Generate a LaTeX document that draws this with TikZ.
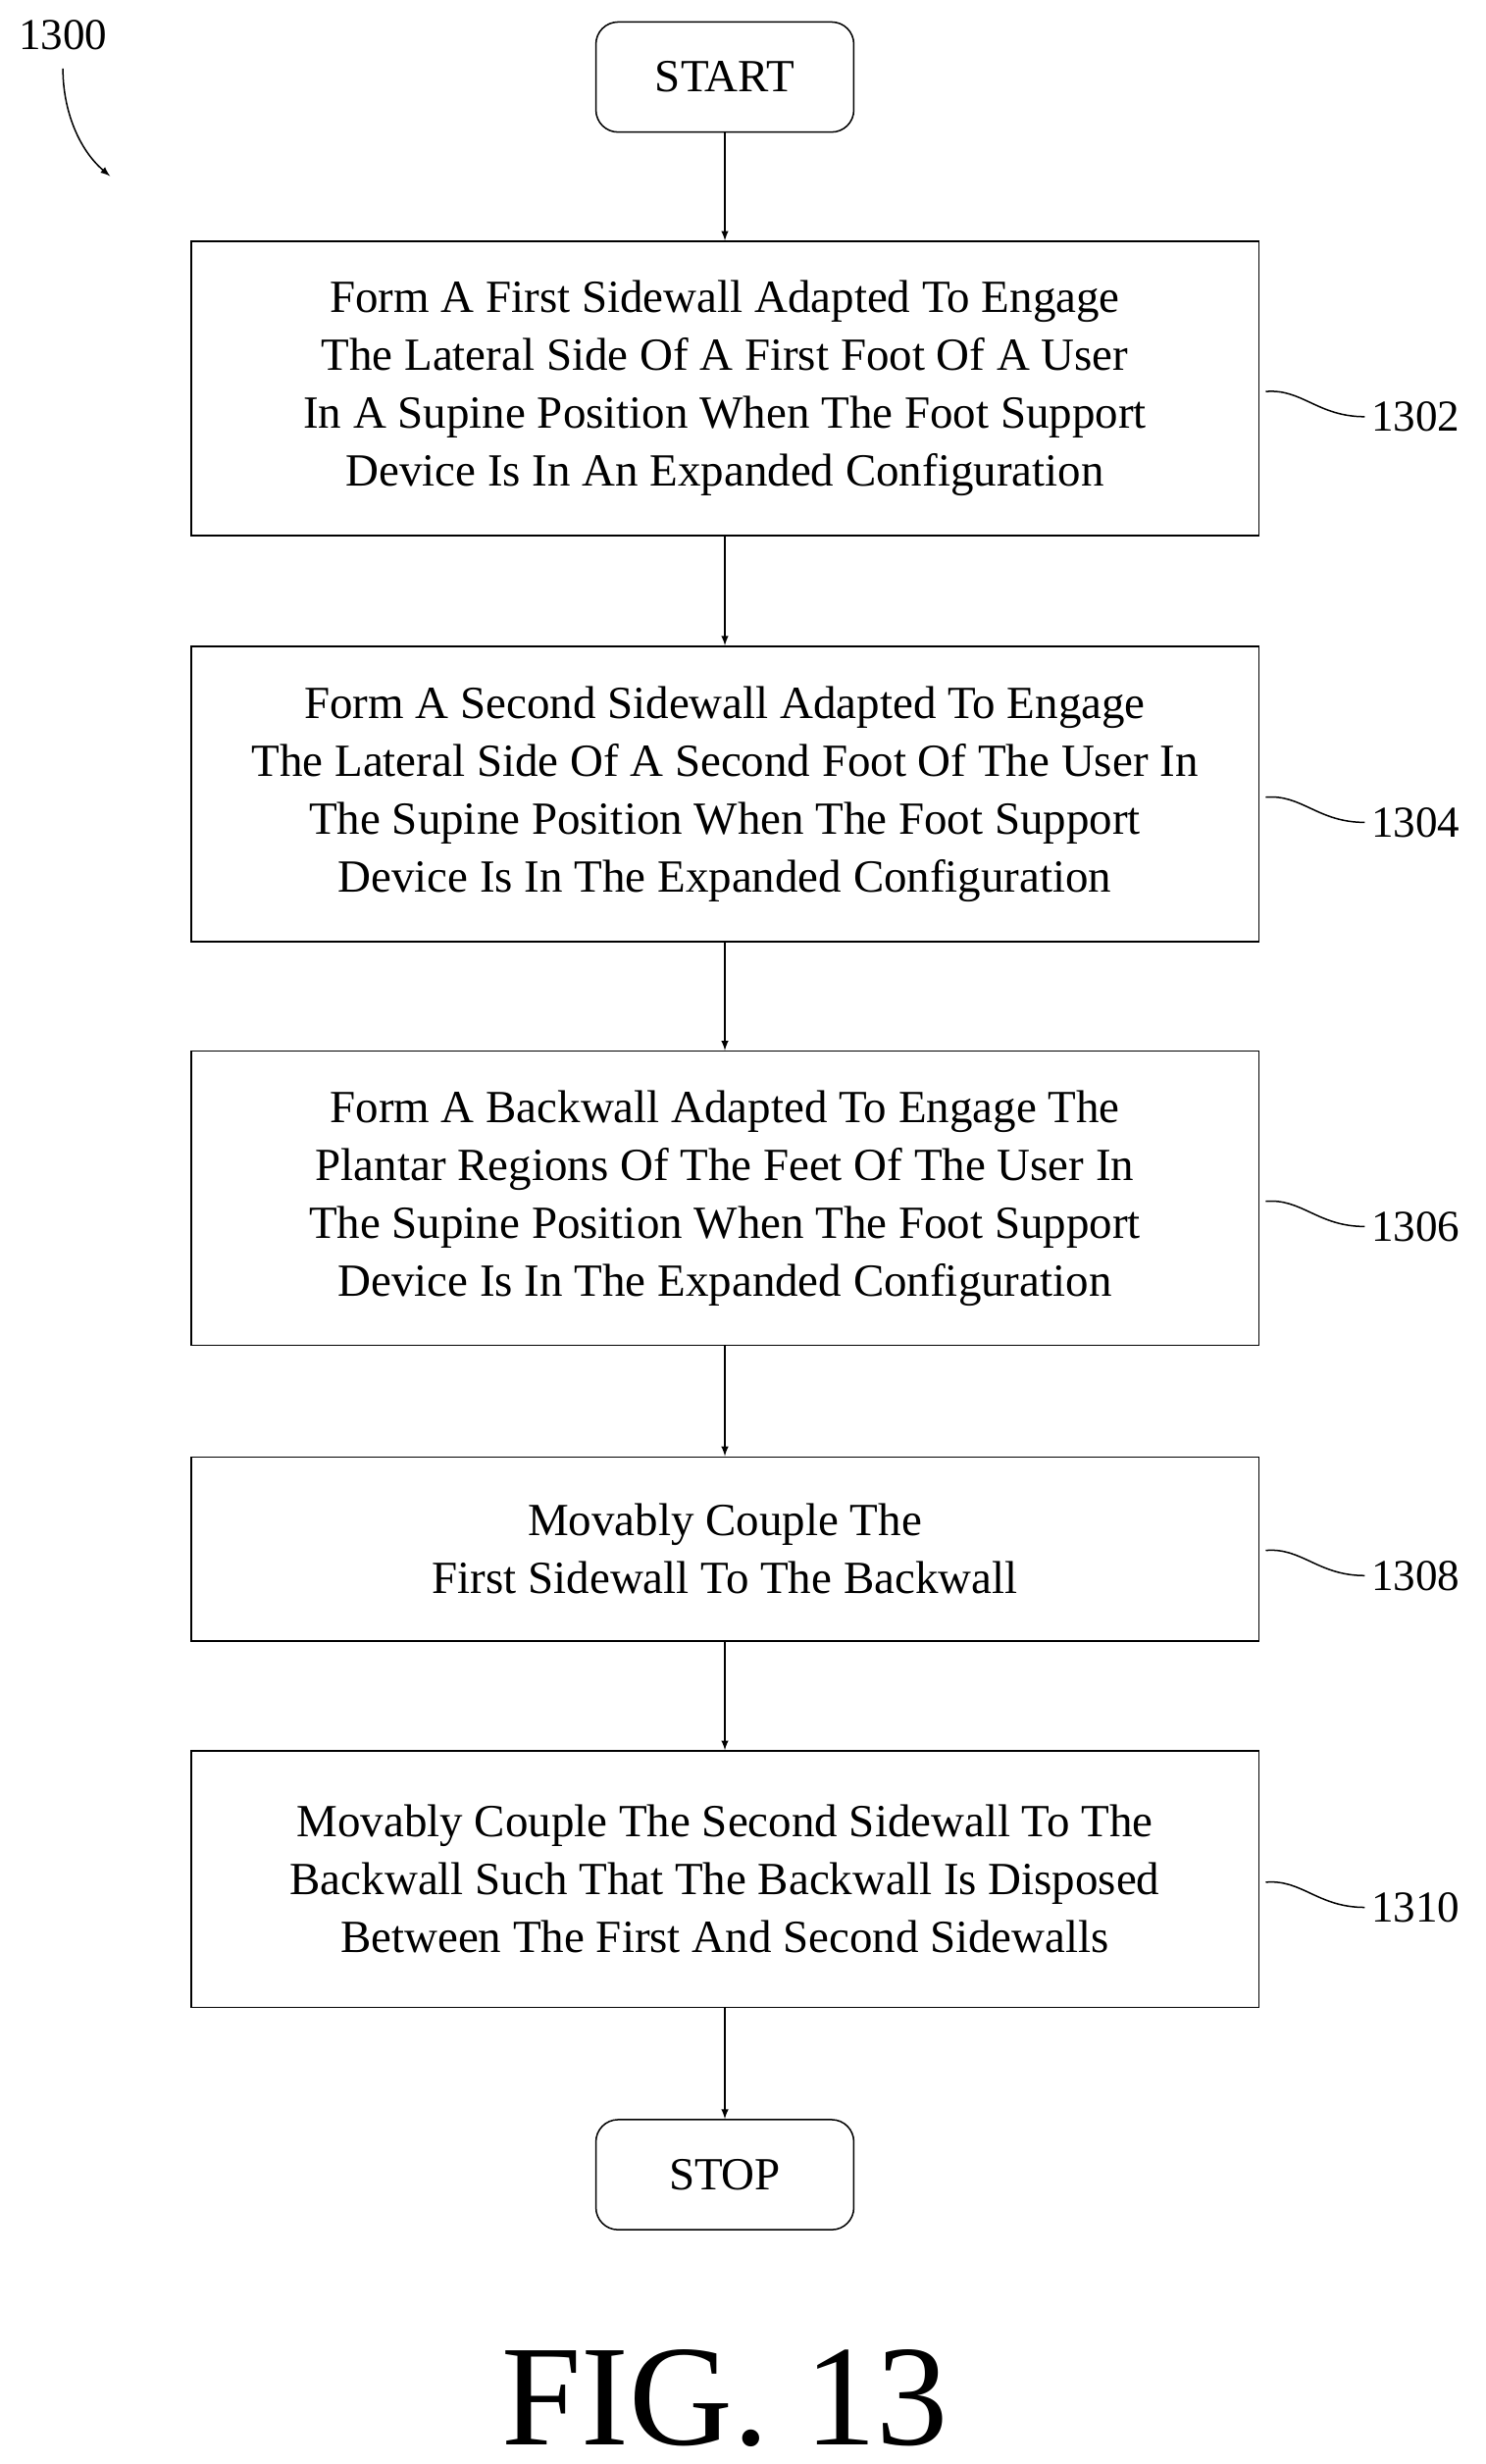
\documentclass[tikz,border=0pt]{standalone}
\usepackage{fontspec}
\setmainfont{Liberation Serif}
\usetikzlibrary{positioning}
\tikzset{
  stepbox/.style={draw, thick, minimum width=679*0.03cm, align=center,
    font=\fontsize{25}{31.5}\selectfont},
  term/.style={draw, thick, rounded corners=12pt, minimum width=164*0.03cm,
    minimum height=70*0.03cm, font=\fontsize{25}{30}\selectfont},
  flow/.style={thick, -latex},
  tag/.style={font=\fontsize{24}{28}\selectfont, anchor=west}
}
\begin{document}
\begin{tikzpicture}[x=0.03cm, y=-0.03cm]
		\useasboundingbox (0,0) rectangle (945,1567);
		% terminals and steps
		\node[term] (start) at (461,49) {START};
		\node[stepbox, minimum height=187*0.03cm] (s1302) at (461,247)
		  {Form A First Sidewall Adapted To Engage\\The Lateral Side Of A First Foot Of A User\\In A Supine Position When The Foot Support\\Device Is In An Expanded Configuration};
		\node[stepbox, minimum height=188*0.03cm] (s1304) at (461,505)
		  {Form A Second Sidewall Adapted To Engage\\The Lateral Side Of A Second Foot Of The User In\\The Supine Position When The Foot Support\\Device Is In The Expanded Configuration};
		\node[stepbox, minimum height=187*0.03cm] (s1306) at (461,762)
		  {Form A Backwall Adapted To Engage The\\Plantar Regions Of The Feet Of The User In\\The Supine Position When The Foot Support\\Device Is In The Expanded Configuration};
		\node[stepbox, minimum height=117*0.03cm] (s1308) at (461,985)
		  {Movably Couple The\\First Sidewall To The Backwall};
		\node[stepbox, minimum height=163*0.03cm] (s1310) at (461,1195)
		  {Movably Couple The Second Sidewall To The\\Backwall Such That The Backwall Is Disposed\\Between The First And Second Sidewalls};
		\node[term] (stop) at (461,1383) {STOP};
		% arrows
		\draw[flow] (start) -- (s1302);
		\draw[flow] (s1302) -- (s1304);
		\draw[flow] (s1304) -- (s1306);
		\draw[flow] (s1306) -- (s1308);
		\draw[flow] (s1308) -- (s1310);
		\draw[flow] (s1310) -- (stop);
		% reference labels
		\foreach \s/\yy in {1302/265, 1304/523, 1306/780, 1308/1002, 1310/1213} {
		  \node[tag] (l\s) at (868,\yy) {\s};
		  \draw[thick] (805,\yy-16) .. controls (828,\yy-18) and (838,\yy) .. (l\s.west);
		}
		\node[font=\fontsize{24}{28}\selectfont] (n1300) at (40,22) {1300};
		\coordinate (tip) at (70,112);
		\draw[thick, -latex] (n1300.south) ++(0,8) .. controls (40,70) and (50,95) .. (tip);
		\node[font=\fontsize{78}{80}\selectfont] (fig) at (461,1525) {FIG. 13};
\end{tikzpicture}
\end{document}
